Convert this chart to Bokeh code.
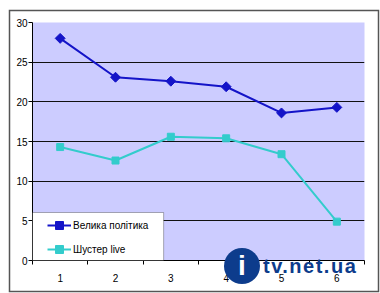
import math
from bokeh.plotting import figure
from bokeh.models import (Range1d, FixedTicker, Legend, LegendItem, BoxAnnotation,
                          SingleIntervalTicker, Div, Column)
from bokeh.embed import file_html
from bokeh.resources import INLINE

categories = [1, 2, 3, 4, 5, 6]
tick_labels = ["1", "2", "3", "4", "5", "6"]
velyka_polityka = [28.0, 23.1, 22.6, 21.9, 18.6, 19.3]
shuster_live = [14.3, 12.6, 15.6, 15.4, 13.4, 4.9]
series_names = ["Велика політика", "Шустер live"]
watermark = "tv.net.ua"

FONT = "Liberation Sans"

p = figure(frame_width=332, frame_height=238, output_backend="svg", toolbar_location=None,
           x_range=Range1d(0.5, 6.5), y_range=Range1d(0, 30),
           min_border_left=32, min_border_right=16, min_border_top=22, min_border_bottom=33)
p.background_fill_color = "#CCCCFF"
p.border_fill_color = "white"
p.outline_line_color = None
p.styles = {"outline": "1.5px solid #555555", "outline-offset": "-5px"}

# axes
p.xaxis.ticker = FixedTicker(ticks=categories,
                             minor_ticks=[c - 0.5 for c in categories] + [categories[-1] + 0.5])
p.xaxis.major_label_overrides = {c: l for c, l in zip(categories, tick_labels)}
p.xaxis.major_tick_line_color = None
p.xaxis.major_tick_out = 0
p.xaxis.major_tick_in = 0
p.xaxis.minor_tick_line_color = "black"
p.xaxis.minor_tick_out = 4
p.xaxis.minor_tick_in = 0
p.xaxis.major_label_standoff = 9

p.yaxis.ticker = SingleIntervalTicker(interval=5, num_minor_ticks=0)
p.yaxis.major_tick_out = 4
p.yaxis.major_tick_in = 0
p.yaxis.minor_tick_line_color = None
p.yaxis.major_label_standoff = 1

for ax in (p.xaxis[0], p.yaxis[0]):
    ax.axis_line_color = "black"
    ax.major_label_text_font = FONT
    ax.major_label_text_font_size = "10px"
    ax.major_label_text_color = "black"

p.xgrid.grid_line_color = None
p.ygrid.ticker = FixedTicker(ticks=[5, 10, 15, 20, 25])
p.ygrid.grid_line_color = "#111111"
p.ygrid.grid_line_width = 1

# series
c1 = "#1414C8"
c2 = "#33CCCC"
l1 = p.line(categories, velyka_polityka, line_color=c1, line_width=2)
m1 = p.scatter(categories, velyka_polityka, marker="square", angle=math.pi / 4, size=7,
               fill_color=c1, line_color=c1)
l2 = p.line(categories, shuster_live, line_color=c2, line_width=2)
m2 = p.scatter(categories, shuster_live, marker="square", size=7,
               fill_color=c2, line_color=c2)

# legend box
box = BoxAnnotation(left=0.5, right=2.87, bottom=0, top=6.05,
                    fill_color="white", fill_alpha=1, line_color="black", line_width=1)
p.add_layout(box)

legend = Legend(items=[LegendItem(label=series_names[0], renderers=[l1, m1]),
                       LegendItem(label=series_names[1], renderers=[l2, m2])],
                location=(15, 1), padding=2, spacing=4, glyph_width=24, glyph_height=20,
                label_standoff=2, background_fill_alpha=0, border_line_color=None,
                label_text_font=FONT, label_text_font_size="10px", label_text_color="black")
p.add_layout(legend, "center")

# outer chart border (inline svg) and watermark, overlaid as HTML
html = (
    '<svg style="position:absolute;left:0px;top:0px;" width="380" height="293">'
    '<rect x="4.5" y="5.5" width="369" height="281" fill="none" stroke="#555555" '
    'stroke-width="1.5"/></svg>'
    '<div style="position:absolute;left:219px;top:243px;width:36px;height:36px;'
    'border-radius:50%;background:#0D3C8C;color:white;font-family:\'Liberation Sans\';'
    'font-weight:bold;font-size:28px;text-align:center;line-height:36px;">i</div>'
    '<div style="position:absolute;left:258px;top:249px;color:#0D3C8C;'
    'font-family:\'Liberation Sans\';font-weight:bold;font-size:20px;letter-spacing:1.5px;'
    'line-height:24px;white-space:nowrap;">' + watermark + '</div>'
)
overlay = Div(text=html, width=380, height=293,
              styles={"position": "absolute", "left": "0px", "top": "0px",
                      "pointer-events": "none"})

layout = Column(children=[p, overlay])
open("out.html", "w").write(file_html(layout, INLINE))
